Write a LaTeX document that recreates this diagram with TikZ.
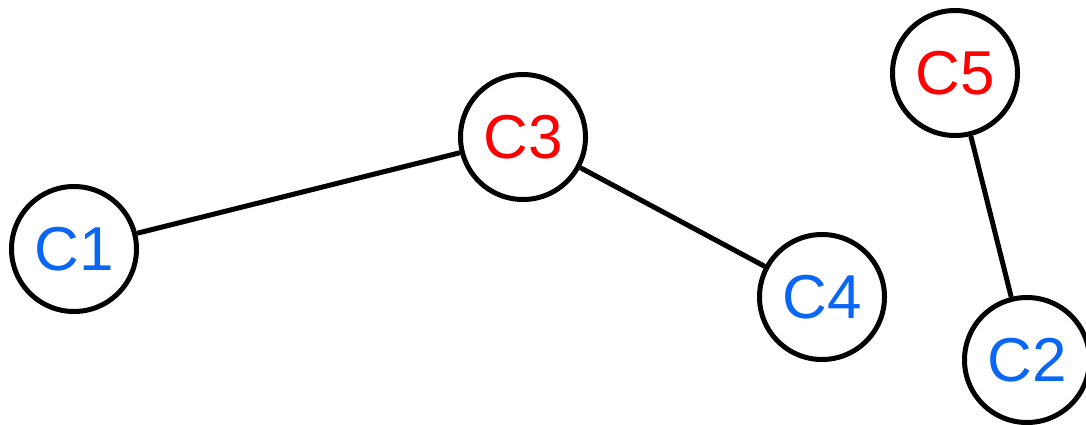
\documentclass[tikz,border=0pt]{standalone}
\usepackage{fontspec}
\setmainfont{Liberation Sans}
\definecolor{cblue}{RGB}{10,102,245}
\definecolor{cred}{RGB}{255,0,0}
\tikzset{
  cnode/.style={circle,draw=black,line width=5pt,fill=white,minimum size=125pt,inner sep=0pt,font=\fontsize{62}{62}\selectfont},
  blue/.style={text=cblue},
  red/.style={text=cred},
  link/.style={line width=5pt,draw=black}
}
\begin{document}
\begin{tikzpicture}[x=1pt,y=-1pt]
\useasboundingbox (0,0) rectangle (1086,424);
\node[cnode,blue] (c1) at (74,249) {C1};
\node[cnode,red] (c3) at (523,137) {C3};
\node[cnode,blue] (c4) at (822,297) {C4};
\node[cnode,red] (c5) at (955,73) {C5};
\node[cnode,blue] (c2) at (1027,360) {C2};
\draw[link] (c1) -- (c3);
\draw[link] (c3) -- (c4);
\draw[link] (c5) -- (c2);
\end{tikzpicture}
\end{document}
